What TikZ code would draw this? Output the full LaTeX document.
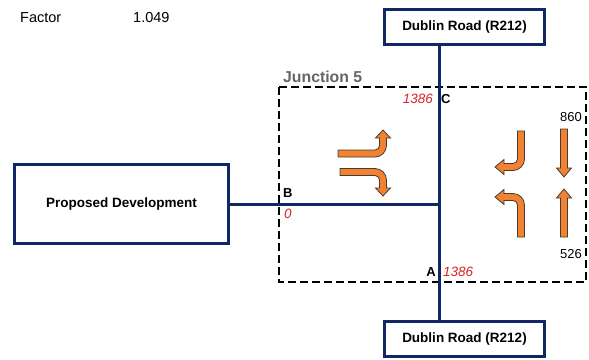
\documentclass[tikz,border=0pt]{standalone}
\usepackage{fontspec}
\setmainfont{Liberation Sans}
\definecolor{navy}{RGB}{15,40,100}
\definecolor{arroworange}{RGB}{240,130,50}
\definecolor{arrowline}{RGB}{70,60,50}
\definecolor{flowred}{RGB}{215,35,40}
\definecolor{juncgray}{RGB}{100,100,100}
\begin{document}
\begin{tikzpicture}[x=1pt,y=1pt,
  roadbox/.style={draw=navy,line width=3pt,fill=white,minimum width=160pt,minimum height=35pt,inner sep=0pt,font=\fontsize{13.5}{15}\selectfont\bfseries},
  devbox/.style={draw=navy,line width=3pt,fill=white,minimum width=214pt,minimum height=79pt,inner sep=0pt,font=\fontsize{13.5}{15}\selectfont\bfseries},
  road/.style={draw=navy,line width=3pt},
  junc/.style={draw=black,line width=2.5pt,dash pattern=on 8pt off 4pt},
  turnarrow/.style={fill=arroworange,draw=arrowline,line width=0.8pt,line join=miter},
  plain/.style={inner sep=0pt,font=\fontsize{14.5}{16}\selectfont},
  cnt/.style={inner sep=0pt,font=\fontsize{13}{15}\selectfont},
  armlabel/.style={inner sep=0pt,font=\fontsize{13}{15}\selectfont\bfseries},
  flow/.style={inner sep=0pt,text=flowred,font=\fontsize{13.5}{15}\selectfont\itshape},
  junctitle/.style={inner sep=0pt,text=juncgray,font=\fontsize{15.8}{17}\selectfont\bfseries}
]
\useasboundingbox (0,0) rectangle (589,-359);

% junction boundary
\draw[junc] (279,-87) rectangle (586,-282);
\node[junctitle,anchor=west] (jt) at (283,-77) {Junction 5};

% boxes
\node[roadbox] (top) at (464.5,-27) {Dublin Road (R212)};
\node[roadbox] (bot) at (464.5,-339) {Dublin Road (R212)};
\node[devbox] (dev) at (121.5,-204) {Proposed Development};

% roads
\coordinate (J) at (439,-204);
\draw[road] (J |- top.south) -- (J |- bot.north);
\draw[road] (dev.east) -- (J);

% labels
\node[plain,anchor=west] (factor) at (20,-18) {Factor};
\node[plain,anchor=west] (factorval) at (133,-18) {1.049};
\node[flow,anchor=east] (fc) at (433,-99) {1386};
\node[armlabel,anchor=west] (lc) at (441,-99) {C};
\node[armlabel,anchor=west] (lb) at (283,-193.5) {B};
\node[flow,anchor=west] (fb) at (284,-214) {0};
\node[armlabel,anchor=east] (la) at (436,-272) {A};
\node[flow,anchor=west] (fa) at (443,-272) {1386};
\node[cnt] (c860) at (571,-117) {860};
\node[cnt] (c526) at (571,-254) {526};

% arrow 1: eastbound left turn (up)
\draw[turnarrow] (338,-157) -- (375,-157) arc[start angle=270,end angle=360,radius=11.5]
  -- (386.5,-138) -- (390.5,-138) -- (383,-130) -- (375.5,-138) -- (379.5,-138)
  -- (379.5,-145.5) arc[start angle=0,end angle=-90,radius=4.5] -- (338,-150) -- cycle;
% arrow 2: eastbound right turn (down)
\draw[turnarrow] (340,-168.5) -- (375,-168.5) arc[start angle=90,end angle=0,radius=11.5]
  -- (386.5,-188) -- (390.5,-188) -- (383,-196) -- (375.5,-188) -- (379.5,-188)
  -- (379.5,-180) arc[start angle=0,end angle=90,radius=4.5] -- (340,-175.5) -- cycle;
% arrow 5: southbound right turn (west)
\draw[turnarrow] (524.5,-131) -- (524.5,-159) arc[start angle=0,end angle=-90,radius=11.5]
  -- (504,-170.5) -- (504,-174.5) -- (495,-167) -- (504,-159.5) -- (504,-163.5)
  -- (513,-163.5) arc[start angle=-90,end angle=0,radius=4.5] -- (517.5,-131) -- cycle;
% arrow 6: northbound left turn (west)
\draw[turnarrow] (524.5,-237) -- (524.5,-205) arc[start angle=0,end angle=90,radius=11.5]
  -- (504,-193.5) -- (504,-189.5) -- (495,-197) -- (504,-204.5) -- (504,-200.5)
  -- (513,-200.5) arc[start angle=90,end angle=0,radius=4.5] -- (517.5,-237) -- cycle;
% arrow 3: southbound straight
\draw[turnarrow] (560.5,-129) -- (567.5,-129) -- (567.5,-168) -- (571.5,-168) -- (564,-177)
  -- (556.5,-168) -- (560.5,-168) -- cycle;
% arrow 4: northbound straight
\draw[turnarrow] (560.5,-237) -- (567.5,-237) -- (567.5,-198) -- (571.5,-198) -- (564,-189)
  -- (556.5,-198) -- (560.5,-198) -- cycle;
\end{tikzpicture}
\end{document}
